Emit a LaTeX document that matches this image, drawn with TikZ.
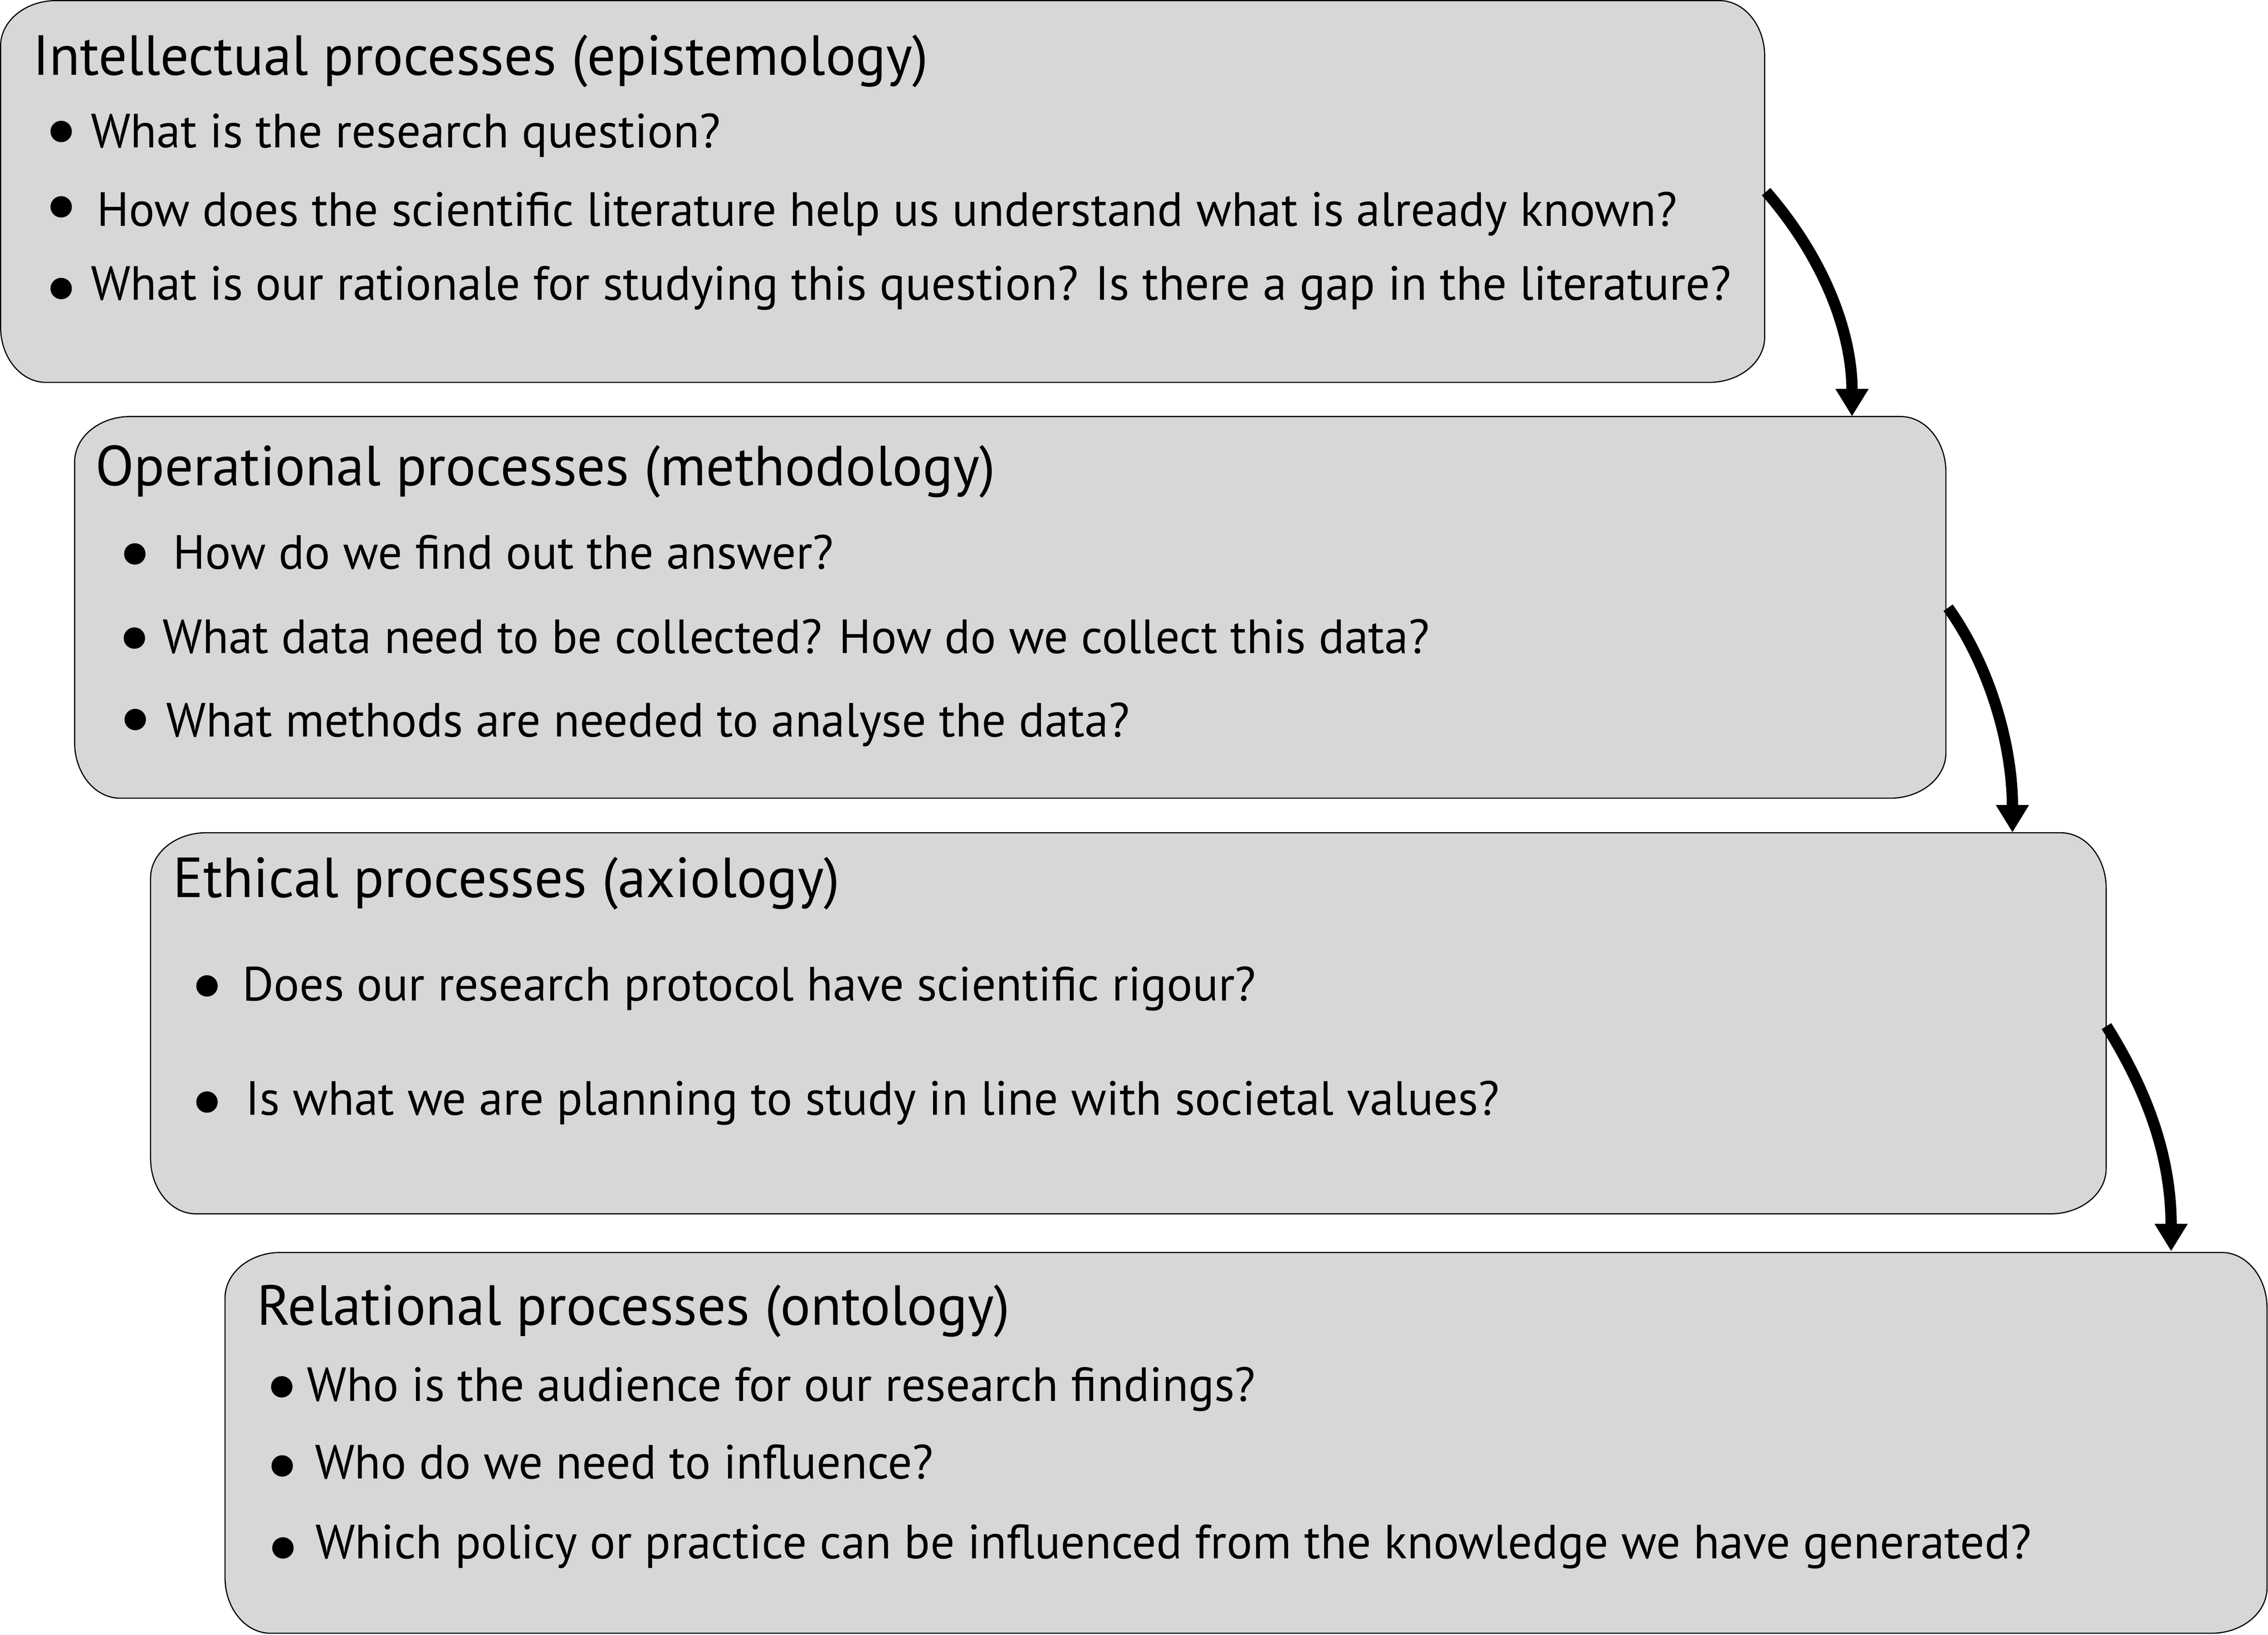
\documentclass[tikz,border=0pt]{standalone}
\usepackage{fontspec}
\setmainfont{PT Sans}
\usetikzlibrary{arrows.meta}
\definecolor{boxgray}{RGB}{215,215,215}
\makeatletter
\tikzset{ecorners/.code={\tikz@addoption{\pgfsetcornersarced{\pgfpoint{38.4pt}{31.4pt}}}}}
\makeatother
\newsavebox\hmeas
\newsavebox\bmeas
\newdimen\hw
\newdimen\bw
\AtBeginDocument{%
\sbox\hmeas{\normalfont\fontsize{10pt}{12pt}\selectfont Intellectual processes (epistemology)Operational processes (methodology)Ethical processes (axiology)Relational processes (ontology)}%
\sbox\bmeas{\normalfont\fontsize{10pt}{12pt}\selectfont What is our rationale for studying this question? Is there a gap in the literature?How does the scientific literature help us understand what is already known?Which policy or practice can be influenced from the knowledge we have generated?What data need to be collected? How do we collect this data?}%
\global\hw=\wd\hmeas
\global\bw=\wd\bmeas
\pgfmathsetmacro\hsz{2223/\hw*10}%
\pgfmathsetmacro\bsz{4289/\bw*10}%
\xdef\hsz{\hsz}\xdef\bsz{\bsz}%
}
\tikzset{
  box/.style={draw=black, line width=0.8pt, fill=boxgray, ecorners, inner sep=0pt, outer sep=0pt, anchor=north west},
  head/.style={anchor=base west, inner sep=0pt, outer sep=0pt, font=\fontsize{\hsz pt}{\hsz pt}\selectfont},
  item/.style={anchor=base west, inner sep=0pt, outer sep=0pt, font=\fontsize{\bsz pt}{\bsz pt}\selectfont},
  bul/.style={circle, fill=black, draw=none, minimum size=14.8pt, inner sep=0pt},
  arr/.style={line width=7.8pt, -{Triangle[length=19pt,width=21.6pt]}}
}
\begin{document}
\begin{tikzpicture}[x=1pt,y=-1pt]
\useasboundingbox (0,0) rectangle (1568,1130.5);

% boxes
\node[box, minimum width=1219.6pt, minimum height=264pt] (B1) at (0.4,0.4) {};
\node[box, minimum width=1293.7pt, minimum height=263.9pt] (B2) at (51.6,288) {};
\node[box, minimum width=1352pt, minimum height=263.5pt] (B3) at (104.1,575.8) {};
\node[box, minimum width=1411.7pt, minimum height=263.3pt] (B4) at (155.6,866) {};

% box 1
\node[head] (h1) at (22.6,51.9) {Intellectual processes (epistemology)};
\node[bul] (d11) at (42.3,90.9) {};
\node[item] (t11) at (62.8,102) {What is the research question?};
\node[bul] (d12) at (42.3,143) {};
\node[item] (t12) at (67,156.3) {How does the scientific literature help us understand what is already known?};
\node[bul] (d13) at (42.3,199.5) {};
\node[item] (t13) at (62.8,207.5) {What is our rationale for studying this question? Is there a gap in the literature?};

% box 2
\node[head] (h2) at (66,335.7) {Operational processes (methodology)};
\node[bul] (d21) at (93.2,383) {};
\node[item] (t21) at (119.6,393.5) {How do we find out the answer?};
\node[bul] (d22) at (92.9,441.2) {};
\node[item] (t22) at (112.4,451.7) {What data need to be collected? How do we collect this data?};
\node[bul] (d23) at (93.5,497.5) {};
\node[item] (t23) at (115,509.5) {What methods are needed to analyse the data?};

% box 3
\node[head] (h3) at (119.6,620.6) {Ethical processes (axiology)};
\node[bul] (d31) at (143.1,681.7) {};
\node[item] (t31) at (167.5,691.9) {Does our research protocol have scientific rigour?};
\node[bul] (d32) at (143.1,762) {};
\node[item] (t32) at (169.9,771) {Is what we are planning to study in line with societal values?};

% box 4
\node[head] (h4) at (177.7,916.2) {Relational processes (ontology)};
\node[bul] (d41) at (194.8,958.9) {};
\node[item] (t41) at (212.3,968.7) {Who is the audience for our research findings?};
\node[bul] (d42) at (195.1,1013.6) {};
\node[item] (t42) at (217.7,1022.5) {Who do we need to influence?};
\node[bul] (d43) at (195.6,1070.3) {};
\node[item] (t43) at (218,1077.6) {Which policy or practice can be influenced from the knowledge we have generated?};

% arrows
\coordinate (s1) at (1221,132.5);
\coordinate (e1) at (1280.4,287.9);
\coordinate (s2) at (1346.8,420.2);
\coordinate (e2) at (1391.3,575.6);
\coordinate (s3) at (1456.3,709.5);
\coordinate (e3) at (1501,865.2);
\draw[arr] (s1) .. controls (1263.6,181.6) and (1280.4,232.9) .. (e1);
\draw[arr] (s2) .. controls (1375.9,460.9) and (1391.3,515.6) .. (e2);
\draw[arr] (s3) .. controls (1488,760) and (1501,805) .. (e3);
\end{tikzpicture}
\end{document}
